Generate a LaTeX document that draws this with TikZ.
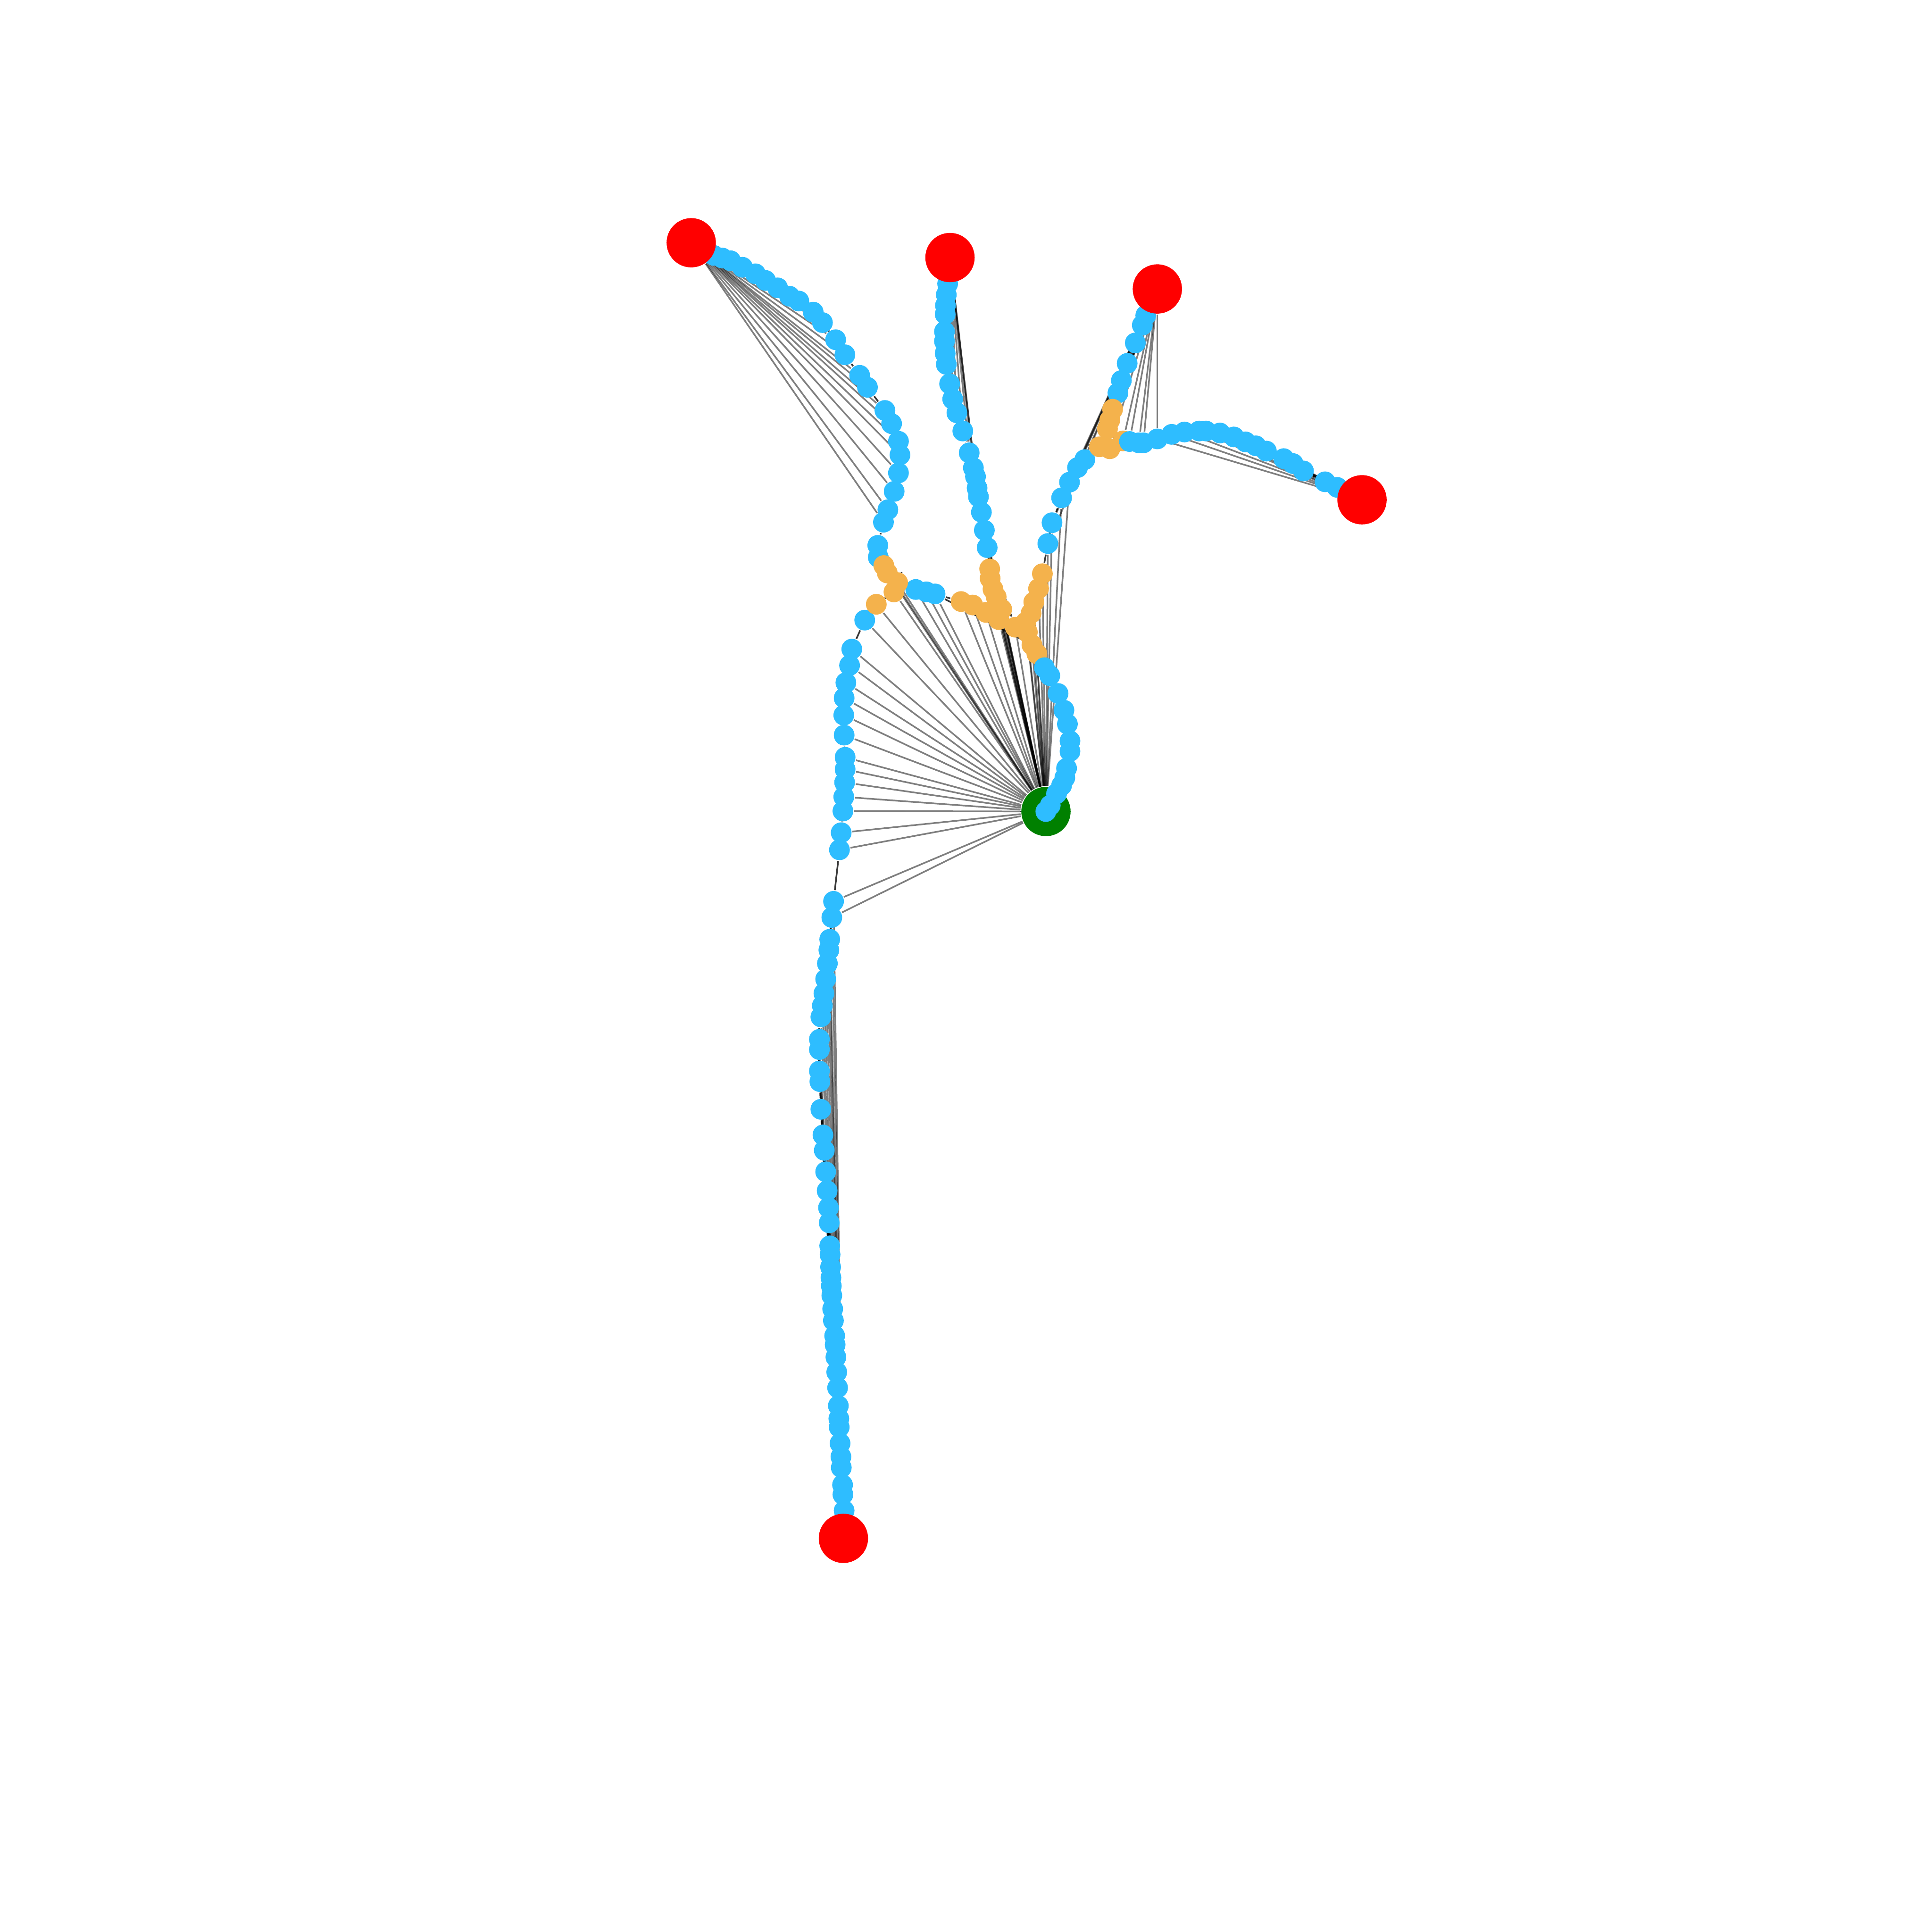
\documentclass[tikz,border=0pt]{standalone}
\definecolor{nblue}{RGB}{46,189,255}
\definecolor{norange}{RGB}{244,178,76}
\definecolor{ngreen}{RGB}{0,128,0}
\pgfdeclarelayer{edges}
\pgfsetlayers{edges,main}
\begin{document}
\begin{tikzpicture}[x=0.01cm,y=-0.01cm,
  bn/.style={circle,fill=nblue,inner sep=0pt,minimum size=0.168cm},
  on/.style={circle,fill=norange,inner sep=0pt,minimum size=0.168cm},
  rn/.style={circle,fill=red,inner sep=0pt,minimum size=0.40cm},
  gn/.style={circle,fill=ngreen,inner sep=0pt,minimum size=0.40cm},
  fan/.style={draw=black,opacity=0.5,line width=0.38pt},
  ce/.style={draw=black,opacity=0.78,line width=0.38pt}]
\path[use as bounding box] (0,0) rectangle (1568,1568);
% green source
\node[gn] (gr) at (848.9,658.6) {};
% branch A
\foreach \n/\x/\y in {a1/579.4/207.3,a2/586.2/209.4,a3/592.9/211.6,a4/602.6/216.9,a5/613.1/222.2,a6/621.3/227.6,a7/631.1/233.6,a8/640.8/240.4,a9/648.3/244.3,a10/660/253.3,a11/667.5/261.8,a12/678.2/275.7,a13/685.7/287.9,a14/697.7/304.6,a15/704/314.3,a16/718.2/333.1,a17/723.6/343.8,a18/729.2/358.1,a19/730.4/369.2,a20/729.2/383.8,a21/725.7/398.8,a22/720.6/413.7,a23/717/423.8,a24/712.4/442.6,a25/712.8/452.3}
  \node[bn] (\n) at (\x,\y) {};
% left chain and trunk
\foreach \n/\x/\y in {l0/701.8/503.3,l1/691.3/526.8,l2/689.5/540,l3/686.5/554,l4/685.1/566.5,l5/684.8/580.4,l6/685.1/596.6,l7/685.9/614.6,l8/685.9/624.4,l9/685.5/635,l10/684.8/646.7,l11/684.1/658.2,l12/682.7/675.8,l13/681.3/689.7}
  \node[bn] (\n) at (\x,\y) {};
\foreach \n/\x/\y in {t1/676.5/731.5,t2/675.1/744.6,t3/673.4/762.3,t4/672.7/771,t5/671.5/781.9,t6/670.1/794.6,t7/668.7/806.2,t8/667.4/816.2,t9/666.2/825.3,t10/665/843.5,t11/665/851.8,t12/665/869.2,t13/665.4/877.8,t14/666.2/900.3,t15/667.9/921.1,t16/669/933.6,t17/670.1/951,t18/671.3/966.4,t19/672.4/980.2,t20/673/992.4,t21/673.4/1011.1,t22/673.7/1018.3,t23/674.1/1028.3,t24/674.4/1036.9,t25/674.7/1043.6,t26/675.1/1051.4,t27/675.8/1062.3,t28/676.4/1071.8,t29/677.4/1084.1,t30/677.8/1091.4,t31/678.4/1101.4,t32/679.1/1113.6,t33/679.8/1126.3,t34/680.4/1140.9,t35/680.8/1151.4,t36/681.1/1158.3,t37/681.8/1171.4,t38/682.5/1182.3,t39/682.8/1191.1,t40/683.8/1205.1,t41/684.1/1212.9,t42/685.1/1226}
  \node[bn] (\n) at (\x,\y) {};
% blue row
\foreach \n/\x/\y in {r1/743.2/478.4,r2/751.8/480.3,r3/758.9/482}
  \node[bn] (\n) at (\x,\y) {};
% middle branch
\foreach \n/\x/\y in {b1/769.1/230.3,b2/768/239.2,b3/767.3/247.9,b4/767.1/255,b5/766.5/269.1,b6/766.5/276.9,b7/767.1/286.7,b8/768/295.7,b9/770.7/311.5,b10/773.2/323.9,b11/776.6/335,b12/781.4/349.8,b13/786.6/367.5,b14/790/379.7,b15/791.7/386.8,b16/793/396.2,b17/794.1/403.2,b18/796.5/415.7,b19/798.9/430.3,b20/801.2/444.4}
  \node[bn] (\n) at (\x,\y) {};
% right branches
\foreach \n/\x/\y in {c1/929.9/255.9,c2/927.1/263.9,c3/921.4/278.3,c4/914.8/294.9,c5/910.1/308.8,c6/907.3/318.9}
  \node[bn] (\n) at (\x,\y) {};
\foreach \n/\x/\y in {e1/880.4/373,e2/874.5/379.5,e3/868/391.3,e4/861.6/404,e5/853.8/424.2,e6/850.4/441.1}
  \node[bn] (\n) at (\x,\y) {};
% orange junction nodes
\foreach \n/\x/\y in {o1/717.3/459,o2/720.1/465,o3/728.5/472.8,o4/725.5/480.4,o5/711.2/490.4,
  h1/780/488.2,h2/789.4/491,h3/800.2/497,h4/810.5/502.8,
  y1/803.2/461.7,y2/803.6/469.4,y3/805.9/478.2,y4/808.5/484.4,y5/813/494.5,
  q1/846/465.6,q2/842.9/477.7,q3/839/488.6,q4/836.8/497.7,q5/832.5/505,
  z1/824/509,z2/833.8/513,z3/837.5/523.3,z4/841.5/530.5,
  p1/903/332.1,p2/900.7/340.9,p3/898.8/348.1,p6/911.5/357.8,p4/892.3/362.6,p5/900.7/364.2}
  \node[on] (\n) at (\x,\y) {};
\foreach \n/\x/\y in {d1/916.7/358.3,d2/924.3/359.4,d3/928/359.4,d4/939.3/356.2,d5/951/352.5,d6/961.3/350.6,d7/973.2/349.8,d8/978.8/349.8,d9/990.1/351.4,d10/1001.4/354.6,d11/1010.8/358.6,d12/1019.3/361.8,d13/1027.8/366.1,d14/1041.9/372.2,d15/1049.4/376.2,d16/1057.9/382.2,d17/1075.4/391,d18/1085.2/395.5}
  \node[bn] (\n) at (\x,\y) {};
% arc to source
\foreach \n/\x/\y in {g1/847.6/541.9,g2/852/548.3,g3/858.7/562.8,g4/863.5/576.4,g5/866.3/587.6,g6/868.4/601.3,g7/868.4/609.8,g8/865.6/623.5,g9/864.2/631.2,g10/861.6/637.4,g11/857.5/644.1,g12/852.4/653.5,g13/848.8/658.6}
  \node[bn] (\n) at (\x,\y) {};
% red end points
\node[rn] (ra) at (561,197) {};
\node[rn] (rb) at (771,209) {};
\node[rn] (rc) at (939.3,234.5) {};
\node[rn] (rd) at (1105.4,405.6) {};
\node[rn] (re) at (684.5,1248.5) {};

\begin{pgfonlayer}{edges}
% fans from the end points
\foreach \i in {3,...,23} \draw[fan] (ra) -- (a\i);
\foreach \i in {2,...,16} \draw[fan] (rb) -- (b\i);
\foreach \n in {c3,c4,c5,c6,p1,p2,p3,p4,p5,p6,d1,d2,d3,d4,e1,e2,e3,e4,e5,e6} \draw[fan] (rc) -- (\n);
\foreach \i in {4,...,16} \draw[fan] (rd) -- (d\i);
\foreach \i in {1,...,21} \draw[fan] (re) -- (t\i);
% fan from the source
\foreach \n in {l0,l1,l2,l3,l4,l5,l6,l7,l8,l9,l10,l11,l12,l13,t1,t2,o1,o2,o3,o4,o5,r1,r2,r3,h1,h2,h3,h4,y1,y2,y3,y4,y5,z1,z2,z3,z4,q1,q2,q3,q4,q5,e3,e4,e5,e6,b17,b18,b19,b20}
  \draw[fan] (gr) -- (\n);
% chains
\foreach \i [count=\j from 2] in {1,...,24} \draw[ce] (a\i) -- (a\j);
\foreach \i [count=\j from 1] in {0,...,12} \draw[ce] (l\i) -- (l\j);
\foreach \i [count=\j from 2] in {1,...,41} \draw[ce] (t\i) -- (t\j);
\foreach \i [count=\j from 2] in {1,...,19} \draw[ce] (b\i) -- (b\j);
\foreach \i [count=\j from 2] in {1,...,5} \draw[ce] (c\i) -- (c\j);
\foreach \i [count=\j from 2] in {1,...,3} \draw[ce] (p\i) -- (p\j);
\foreach \i [count=\j from 2] in {1,...,5} \draw[ce] (e\i) -- (e\j);
\foreach \i [count=\j from 2] in {1,...,4} \draw[ce] (q\i) -- (q\j);
\foreach \i [count=\j from 2] in {1,...,17} \draw[ce] (d\i) -- (d\j);
\foreach \i [count=\j from 2] in {1,...,12} \draw[ce] (g\i) -- (g\j);
\foreach \i [count=\j from 2] in {1,...,3} \draw[ce] (h\i) -- (h\j);
\foreach \i [count=\j from 2] in {1,...,2} \draw[ce] (r\i) -- (r\j);
\foreach \i [count=\j from 2] in {1,...,4} \draw[ce] (y\i) -- (y\j);
\foreach \i [count=\j from 2] in {1,...,3} \draw[ce] (z\i) -- (z\j);
\foreach \i [count=\j from 2] in {1,...,4} \draw[ce] (o\i) -- (o\j);
\foreach \u/\v in {ra/a1,a25/o1,o5/l0,l13/t1,t42/re,o4/r1,r3/h1,h4/z1,r3/z3,z4/g1,g13/gr,rb/b1,b20/y1,y5/z1,b20/z1,rc/c1,c6/p1,p4/e1,e6/q1,q5/z1,p4/p5,p5/p6,p6/d1,d18/rd}
  \draw[ce] (\u) -- (\v);
\end{pgfonlayer}
\end{tikzpicture}
\end{document}
